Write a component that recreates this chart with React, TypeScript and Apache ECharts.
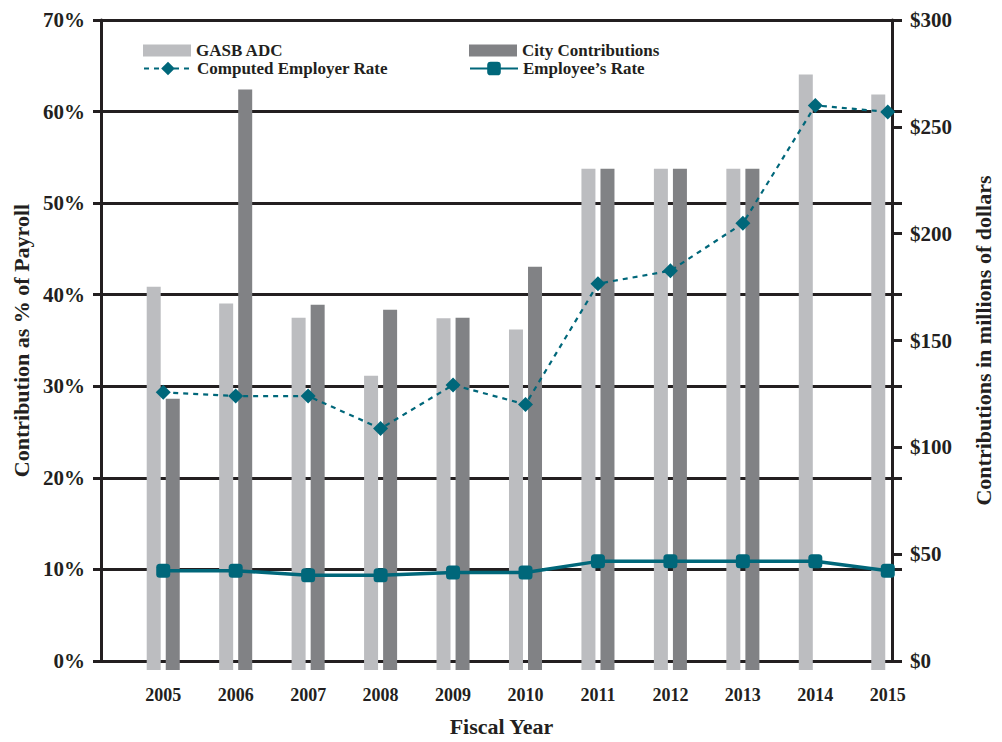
import React, { useEffect, useRef } from "react";
import * as echarts from "echarts";

// Fiscal years on the category axis
const years = ["2005", "2006", "2007", "2008", "2009", "2010", "2011", "2012", "2013", "2014", "2015"];

// Contributions, millions of dollars (right axis)
const gasbAdc = [176.9, 169.1, 162.6, 135.8, 162.4, 157.1, 231.4, 231.4, 231.4, 274.8, 265.6];
const cityContributions = [125.2, 267.9, 168.6, 166.3, 162.6, 186.1, 231.4, 231.4, 231.4, null, null];

// Rates as % of payroll (left axis)
const computedEmployerRate = [29.9, 29.5, 29.5, 26.0, 30.7, 28.6, 41.6, 43.0, 48.1, 60.8, 60.1];
const employeeRate = [10.7, 10.7, 10.2, 10.2, 10.5, 10.5, 11.7, 11.7, 11.7, 11.7, 10.7];

// Axis ranges
const pctMax = 70;
const pctStep = 10;
const dollarMax = 300;
const dollarStep = 50;

const INK = "#231f20";
const TEAL = "#00677a";
const SERIF = "'Liberation Serif', 'Times New Roman', serif";

export default function App() {
  const ref = useRef<HTMLDivElement>(null);

  useEffect(() => {
    const chart = echarts.init(ref.current!, null, { renderer: "svg" });
    const textBase = { fontFamily: SERIF, fontWeight: "bold" as const, color: INK };
    const legendText = { ...textBase, fontSize: 17, lineHeight: 17 };

    // one legend per entry so the two columns line up
    const legendItem = (name: string, left: number, top: number, itemHeight: number, icon?: string) => ({
      left,
      top,
      padding: 0,
      itemWidth: 48,
      itemHeight,
      textStyle: legendText,
      data: [icon ? { name, icon } : { name }],
    });

    chart.setOption({
      animation: false,
      backgroundColor: "#ffffff",
      grid: [
        // frame: axes, gridlines, titles
        { left: 101, right: 84, top: 20, bottom: 72 },
        // plotting area for the series
        { left: 127, right: 78, top: 20, bottom: 72 },
      ],
      legend: [
        legendItem("GASB ADC", 143, 42, 12, "rect"),
        legendItem("City Contributions", 469, 42, 12, "rect"),
        legendItem("Computed Employer Rate", 143, 60, 17),
        legendItem("Employee\u2019s Rate", 469, 60, 17),
      ],
      xAxis: [
        {
          gridIndex: 0,
          type: "category",
          data: years,
          axisLine: { show: false },
          axisTick: { show: false },
          axisLabel: { show: false },
          splitLine: { show: false },
          name: "Fiscal Year",
          nameLocation: "middle",
          nameGap: 54,
          nameTextStyle: { ...textBase, fontSize: 22 },
        },
        {
          gridIndex: 1,
          type: "category",
          data: years,
          axisLine: { show: false },
          axisTick: { show: false },
          splitLine: { show: false },
          axisLabel: { ...textBase, fontSize: 18, margin: 16 },
        },
      ],
      yAxis: [
        {
          gridIndex: 0,
          type: "value",
          min: 0,
          max: pctMax,
          interval: pctStep,
          position: "left",
          axisLine: { show: true, lineStyle: { color: INK, width: 3 } },
          axisTick: { show: true, length: 8, lineStyle: { color: INK, width: 3 } },
          splitLine: { show: true, lineStyle: { color: INK, width: 3 } },
          axisLabel: { ...textBase, fontSize: 21, margin: 16, formatter: "{value}%" },
          name: "Contribution as % of Payroll",
          nameLocation: "middle",
          nameGap: 68,
          nameRotate: 90,
          nameTextStyle: { ...textBase, fontSize: 22 },
        },
        {
          gridIndex: 0,
          type: "value",
          min: 0,
          max: dollarMax,
          interval: dollarStep,
          position: "right",
          offset: -10,
          axisLine: { show: true, lineStyle: { color: INK, width: 3 } },
          axisTick: { show: true, length: 10, lineStyle: { color: INK, width: 3 } },
          splitLine: { show: false },
          axisLabel: { ...textBase, fontSize: 21, margin: 18, formatter: "${value}" },
          name: "Contributions in millions of dollars",
          nameLocation: "middle",
          nameGap: 80,
          nameRotate: 90,
          nameTextStyle: { ...textBase, fontSize: 22 },
        },
        { gridIndex: 1, type: "value", min: 0, max: pctMax, interval: pctStep, show: false },
        { gridIndex: 1, type: "value", min: 0, max: dollarMax, interval: dollarStep, show: false },
      ],
      series: [
        {
          name: "GASB ADC",
          type: "bar",
          xAxisIndex: 1,
          yAxisIndex: 3,
          data: gasbAdc,
          barWidth: 14,
          barGap: "36%",
          itemStyle: { color: "#bcbdc0" },
          z: 3,
        },
        {
          name: "City Contributions",
          type: "bar",
          xAxisIndex: 1,
          yAxisIndex: 3,
          data: cityContributions,
          barWidth: 14,
          barGap: "36%",
          itemStyle: { color: "#818285" },
          z: 3,
        },
        {
          name: "Computed Employer Rate",
          type: "line",
          xAxisIndex: 1,
          yAxisIndex: 2,
          data: computedEmployerRate,
          symbol: "diamond",
          symbolSize: [15, 15],
          lineStyle: { color: TEAL, width: 2.2, type: [5, 5] },
          itemStyle: { color: TEAL },
          z: 5,
        },
        {
          name: "Employee\u2019s Rate",
          type: "line",
          xAxisIndex: 1,
          yAxisIndex: 2,
          data: employeeRate,
          symbol: "roundRect",
          symbolSize: 14,
          lineStyle: { color: TEAL, width: 3.5 },
          itemStyle: { color: TEAL },
          z: 6,
        },
      ],
    });

    return () => chart.dispose();
  }, []);

  return (
    <div
      ref={ref}
      style={{ position: "absolute", left: 0, top: 0, width: 1002, height: 742 }}
    />
  );
}
